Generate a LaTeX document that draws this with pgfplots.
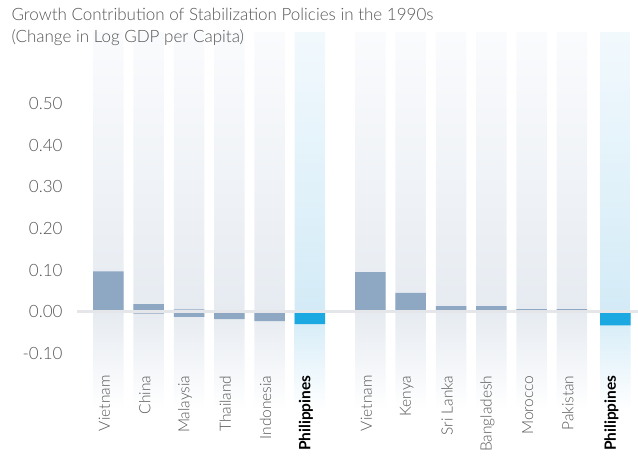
\documentclass[border=0pt]{standalone}
\usepackage{pgfplots}
\pgfplotsset{compat=1.18}
\usepackage{fontspec}
\setmainfont{Lato}[UprightFont=* Light, BoldFont=* Bold]

\definecolor{steel}{HTML}{8EA8C3}
\definecolor{phil}{HTML}{1CA9E1}
\definecolor{colTop}{HTML}{FAFBFD}
\definecolor{colMid}{HTML}{E6EBF1}
\definecolor{philTop}{HTML}{F2F9FD}
\definecolor{philMid}{HTML}{D3EBF7}
\definecolor{zline}{HTML}{E4E6E9}
\definecolor{txt}{HTML}{555555}

% bar heights, change in log GDP per capita
\pgfplotstableread{
x     v
0     0.097
1     0.018
2     0.005
6.5   0.095
7.5   0.045
8.5   0.013
9.5   0.013
10.5  0.006
11.5  0.006
}\pos
\pgfplotstableread{
x     v
1    -0.005
2    -0.013
3    -0.018
4    -0.023
}\negs
\pgfplotstableread{
x     v
5     -0.030
12.58 -0.033
}\phl

\begin{document}
\begin{tikzpicture}[x=1pt,y=1pt]
\useasboundingbox (0,0) rectangle (638,457);
\begin{axis}[
  at={(77pt,47pt)}, anchor=south west,
  scale only axis, width=561pt, height=378pt,
  xmin=-0.78, xmax=13.14,
  ymin=-0.237, ymax=0.673,
  axis on top,
  axis line style={draw=none},
  tick style={draw=none},
  ytick={-0.1,0,0.1,0.2,0.3,0.4,0.5},
  yticklabel style={
    /pgf/number format/fixed, /pgf/number format/fixed zerofill,
    /pgf/number format/precision=2, /pgf/number format/assume math mode=true,
    text=txt, font=\fontsize{17}{20}\selectfont, xshift=-11pt},
  xtick={0,1,2,3,4,5,6.5,7.5,8.5,9.5,10.5,11.5,12.58},
  xticklabels={Vietnam,China,Malaysia,Thailand,Indonesia,\textcolor{black}{\textbf{Philippines}},
    Vietnam,Kenya,Sri Lanka,Bangladesh,Morocco,Pakistan,\textcolor{black}{\textbf{Philippines}}},
  xticklabel style={xshift=-4pt, rotate=90, anchor=east, text=txt, font=\fontsize{15.5}{18}\selectfont},
  xticklabel shift=-38pt,
  col/.style={ybar, bar width=30.5pt, bar shift=0pt, draw=none},
]
% background columns
\addplot[col, top color=colTop, bottom color=colMid] coordinates
  {(0,0.673) (1,0.673) (2,0.673) (3,0.673) (4,0.673)
   (6.5,0.673) (7.5,0.673) (8.5,0.673) (9.5,0.673) (10.5,0.673) (11.5,0.673)};
\addplot[col, top color=colMid, bottom color=white] coordinates
  {(0,-0.237) (1,-0.237) (2,-0.237) (3,-0.237) (4,-0.237)
   (6.5,-0.237) (7.5,-0.237) (8.5,-0.237) (9.5,-0.237) (10.5,-0.237) (11.5,-0.237)};
\addplot[col, top color=philTop, bottom color=philMid] coordinates {(5,0.673) (12.58,0.673)};
\addplot[col, top color=philMid, bottom color=white] coordinates {(5,-0.237) (12.58,-0.237)};
% values
\addplot[col, fill=steel] table[x=x, y=v] {\pos};
\addplot[col, fill=steel] table[x=x, y=v] {\negs};
\addplot[col, fill=phil] table[x=x, y=v] {\phl};
% zero line
\addplot[zline, line width=3pt] coordinates {(-0.78,0) (13.14,0)};
\end{axis}
\node[anchor=base west, text=txt, font=\fontsize{17}{20}\selectfont] at (8,436.5)
  {Growth Contribution of Stabilization Policies in the 1990s};
\node[anchor=base west, text=txt, font=\fontsize{17}{20}\selectfont] at (8,414)
  {(Change in Log GDP per Capita)};
\end{tikzpicture}
\end{document}
